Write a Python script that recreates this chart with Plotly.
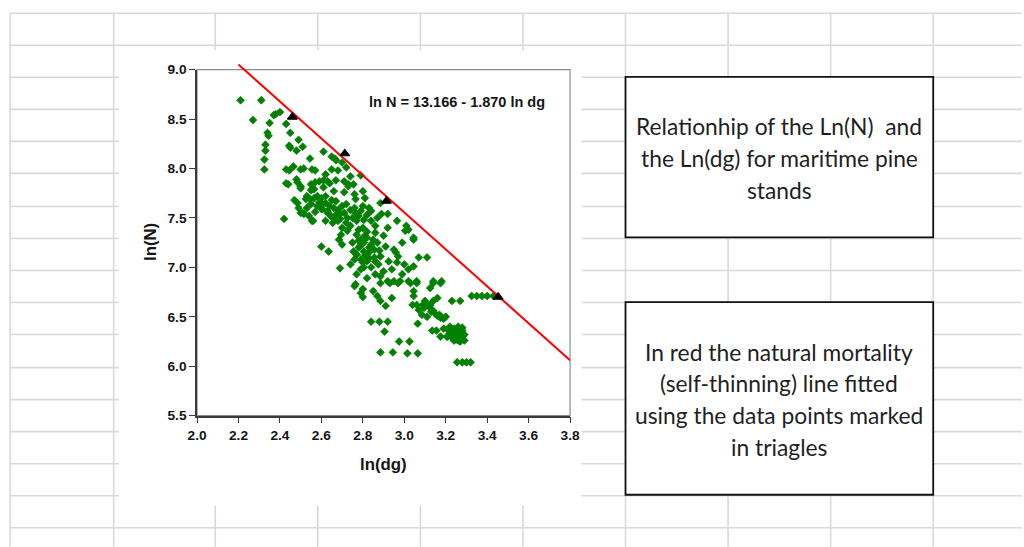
import plotly.graph_objects as go

# Figure size; the page adds an 8 px body margin and is fitted to a 1024x547 window
PAGE_W, PAGE_H = 1024, 547
BODY_MARGIN = 8
W, H = PAGE_W, PAGE_H
CAP_W, CAP_H = PAGE_W + 2 * BODY_MARGIN, PAGE_H + 2 * BODY_MARGIN

# ---- Data: ln(dg) vs ln(N) for maritime pine stands -------------------------
# (ln_dg, ln_n) pairs, grouped by region of the cloud
upper_stands = [
    (2.21, 8.69), (2.31, 8.69), (2.27, 8.49), (2.35, 8.46), (2.37, 8.54), (2.38, 8.55), (2.40, 8.57), (2.43, 8.45),
    (2.34, 8.36), (2.345, 8.33), (2.45, 8.36), (2.49, 8.29), (2.33, 8.24), (2.33, 8.18), (2.445, 8.23), (2.45, 8.21),
    (2.48, 8.18), (2.51, 8.22), (2.325, 8.09), (2.325, 7.99), (2.545, 8.10), (2.61, 8.17), (2.65, 8.12), (2.665, 8.10),
    (2.67, 8.085), (2.70, 8.06), (2.43, 7.99), (2.445, 7.98), (2.465, 8.02), (2.50, 7.99), (2.515, 8.00), (2.555, 7.99),
    (2.57, 7.98), (2.65, 7.99), (2.68, 7.98), (2.72, 8.01), (2.74, 7.92), (2.79, 7.93), (2.43, 7.85), (2.48, 7.89),
    (2.485, 7.86), (2.50, 7.82), (2.55, 7.84), (2.555, 7.79), (2.57, 7.86), (2.59, 7.87), (2.61, 7.88), (2.62, 7.94),
    (2.63, 7.87), (2.64, 7.85), (2.67, 7.88), (2.71, 7.87), (2.73, 7.84), (2.755, 7.84),
]
mid_upper_stands = [
    (2.42, 7.49), (2.47, 7.68), (2.50, 7.55), (2.56, 7.47), (2.545, 7.69), (2.55, 7.78), (2.50, 7.80), (2.44, 7.84),
    (2.49, 7.60), (2.51, 7.55), (2.55, 7.64), (2.555, 7.47), (2.58, 7.72), (2.60, 7.59), (2.62, 7.47), (2.63, 7.55),
    (2.53, 7.72), (2.515, 7.54), (2.54, 7.52), (2.565, 7.70), (2.605, 7.64), (2.485, 7.65), (2.525, 7.69), (2.53, 7.60),
    (2.58, 7.62), (2.605, 7.59), (2.63, 7.57), (2.645, 7.52), (2.66, 7.50), (2.655, 7.45), (2.68, 7.47), (2.69, 7.54),
    (2.70, 7.40), (2.725, 7.50), (2.74, 7.42), (2.765, 7.55), (2.77, 7.47), (2.79, 7.57), (2.805, 7.48), (2.84, 7.57),
    (2.62, 7.72), (2.67, 7.67), (2.72, 7.64), (2.765, 7.69), (2.81, 7.70), (2.695, 7.33), (2.725, 7.37), (2.685, 7.28),
    (2.70, 7.23), (2.565, 7.79), (2.61, 7.81), (2.73, 7.82), (2.84, 7.47), (2.86, 7.42), (2.87, 7.50),
    (2.60, 7.70), (2.66, 7.77), (2.71, 7.76), (2.76, 7.74), (2.80, 7.77), (2.885, 7.65), (2.89, 7.54), (2.92, 7.54),
    (2.60, 7.21), (2.635, 7.16), (2.69, 6.99),
    (2.64, 7.62), (2.66, 7.60), (2.68, 7.58), (2.70, 7.62), (2.71, 7.55), (2.67, 7.53), (2.69, 7.49), (2.72, 7.45),
    (2.74, 7.58), (2.75, 7.50), (2.62, 7.65), (2.65, 7.68), (2.59, 7.66), (2.57, 7.56), (2.76, 7.60), (2.80, 7.62),
    (2.83, 7.60), (2.78, 7.52), (2.82, 7.53),
]
middle_stands = [
    (2.77, 7.33), (2.79, 7.28), (2.805, 7.25), (2.82, 7.30), (2.84, 7.23), (2.78, 7.20), (2.805, 7.16), (2.83, 7.15),
    (2.855, 7.18), (2.77, 7.13), (2.79, 7.08), (2.82, 7.06), (2.855, 7.10), (2.885, 7.11), (2.875, 7.03), (2.84, 7.00),
    (2.805, 7.00), (2.86, 7.35), (2.90, 7.32), (2.91, 7.21), (2.95, 7.18), (2.92, 7.40), (2.96, 7.15), (2.97, 7.11),
    (3.00, 7.03), (2.94, 6.98), (2.965, 7.05), (3.01, 7.42), (3.005, 7.37), (3.045, 7.30), (2.99, 7.25), (3.07, 7.10),
    (3.11, 7.10), (2.925, 7.06), (2.90, 6.96), (2.77, 6.93), (2.82, 6.89), (2.885, 6.91), (2.92, 6.86), (2.95, 6.86),
    (2.98, 6.86), (3.02, 6.86), (3.06, 6.86), (3.14, 6.86), (3.18, 6.86), (2.79, 6.98), (2.74, 7.03), (2.755, 7.16),
    (2.75, 7.25), (2.86, 6.93), (2.99, 6.93), (3.02, 6.98), (3.045, 7.01), (2.965, 7.47), (3.02, 7.38), (3.045, 7.28),
    (2.78, 7.38), (2.80, 7.40), (2.82, 7.36), (2.81, 7.32), (2.79, 7.22), (2.81, 7.12), (2.83, 7.20), (2.80, 7.05),
    (2.85, 7.28), (2.87, 7.25), (2.88, 7.17), (2.76, 7.08), (2.78, 7.27), (2.83, 7.09), (2.86, 7.06),
]
lower_stands = [
    (2.765, 6.83), (2.80, 6.78), (2.79, 6.74), (2.80, 6.70), (2.85, 6.76), (2.87, 6.71), (2.885, 6.66), (2.91, 6.61),
    (2.94, 6.69), (2.885, 6.84), (2.93, 6.84), (2.97, 6.84), (3.03, 6.84), (3.06, 6.84), (3.045, 6.76), (3.045, 6.71),
    (3.125, 6.79), (3.14, 6.84), (3.175, 6.84), (3.04, 6.62), (3.06, 6.62), (3.09, 6.62), (3.125, 6.62), (3.07, 6.57),
    (3.095, 6.59), (3.16, 6.69), (3.14, 6.66), (3.085, 6.52), (3.11, 6.50), (3.14, 6.56), (3.16, 6.51), (3.175, 6.49),
    (3.20, 6.50), (3.23, 6.66), (3.27, 6.66), (3.325, 6.71), (3.35, 6.71), (3.375, 6.71), (3.40, 6.71), (3.43, 6.71),
    (2.84, 6.45), (2.88, 6.45), (2.92, 6.45), (2.905, 6.35), (3.065, 6.43), (3.135, 6.36), (3.155, 6.36), (3.175, 6.30),
    (3.205, 6.30), (2.975, 6.25), (3.025, 6.25), (2.885, 6.14), (2.945, 6.14), (3.015, 6.13), (3.065, 6.13),
    (3.255, 6.04), (3.28, 6.04), (3.30, 6.04), (3.32, 6.04), (2.76, 6.81),
    (3.10, 6.66), (3.11, 6.62), (3.12, 6.60), (3.13, 6.55), (3.15, 6.53), (3.17, 6.52), (3.19, 6.48),
]
cluster_stands = [
    (3.19, 6.38), (3.21, 6.37), (3.22, 6.40), (3.23, 6.36), (3.24, 6.38), (3.25, 6.35), (3.26, 6.37), (3.27, 6.34),
    (3.28, 6.36), (3.22, 6.33), (3.24, 6.32), (3.25, 6.30), (3.26, 6.31), (3.27, 6.29), (3.28, 6.30), (3.29, 6.32),
    (3.23, 6.29), (3.25, 6.27), (3.26, 6.26), (3.27, 6.25), (3.29, 6.26), (3.24, 6.26), (3.21, 6.30), (3.26, 6.40),
    (3.28, 6.39),
]

# Points used for the self-thinning fit (triangles)
tri_ln_dg = [2.46, 2.713, 2.914, 3.453]
tri_ln_n = [8.52, 8.15, 7.67, 6.70]

# Fitted self-thinning line: ln N = a + b ln dg
INTERCEPT = 13.166
SLOPE = -1.870
line_ln_dg = [2.2, 3.8]

x_ticks = [2.0, 2.2, 2.4, 2.6, 2.8, 3.0, 3.2, 3.4, 3.6, 3.8]
y_ticks = [5.5, 6.0, 6.5, 7.0, 7.5, 8.0, 8.5, 9.0]

box1_lines = ["Relationhip of the Ln(N)\u00a0 and", "the Ln(dg) for maritime pine", "stands"]
box2_lines = ["In red the natural mortality", "(self-thinning) line fitted",
              "using the data points marked", "in triagles"]


# ---- Helpers: window pixel -> figure paper coordinates ----------------------
def px(x):
    return (x * CAP_W / PAGE_W - BODY_MARGIN) / W


def py(y):
    return 1 - (y * CAP_H / PAGE_H - BODY_MARGIN) / H


all_stands = upper_stands + mid_upper_stands + middle_stands + lower_stands + cluster_stands
ln_dg = [p[0] for p in all_stands]
ln_n = [p[1] for p in all_stands]
line_ln_n = [INTERCEPT + SLOPE * v for v in line_ln_dg]

BOLD = dict(family="Liberation Sans, Arial, sans-serif", weight="bold", color="#141414")
AXIS_COLOR = "#3a3a3a"

# Plot-area geometry
X_DOM = [px(195.7), px(570.3)]
Y_DOM = [py(416), py(70.3)]
# A second y axis with the same scale but a taller domain lets the fitted
# line run a few pixels past the top of the frame
Y_EXT = py(58) - Y_DOM[1]
Y2_TOP = y_ticks[-1] + Y_EXT * (y_ticks[-1] - y_ticks[0]) / (Y_DOM[1] - Y_DOM[0])

fig = go.Figure()

fig.add_trace(go.Scatter(
    x=ln_dg, y=ln_n, mode="markers",
    marker=dict(symbol="diamond", size=6.0, color="#008000", line=dict(color="#008000", width=0.7)),
    showlegend=False, hoverinfo="skip",
))
fig.add_trace(go.Scatter(
    x=line_ln_dg, y=line_ln_n, mode="lines", xaxis="x", yaxis="y2",
    line=dict(color="#ff0000", width=2),
    showlegend=False, hoverinfo="skip",
))
fig.add_trace(go.Scatter(
    x=tri_ln_dg, y=tri_ln_n, mode="markers", xaxis="x", yaxis="y2",
    marker=dict(symbol="triangle-up", size=8.5, color="#000000", line=dict(color="#000000", width=1.2)),
    showlegend=False, hoverinfo="skip",
))

# ---- Spreadsheet background grid --------------------------------------------
grid_cols = [8, 112, 214, 317, 420, 523, 626, 729, 832, 935]
grid_rows = [14, 46, 78, 110, 142, 174, 207, 239, 271, 303, 335, 368, 400, 432, 464, 496, 528]
GRID = dict(color="#d9d9d9", width=1.6)

shapes = []
for c in grid_cols:
    shapes.append(dict(type="line", xref="paper", yref="paper", x0=px(c), x1=px(c),
                       y0=py(14), y1=py(PAGE_H), line=GRID, layer="below"))
for r in grid_rows:
    shapes.append(dict(type="line", xref="paper", yref="paper", x0=px(8), x1=px(PAGE_W),
                       y0=py(r), y1=py(r), line=GRID, layer="below"))

# Chart area (covers the cell grid)
shapes.append(dict(type="rect", xref="paper", yref="paper", x0=px(117), x1=px(582),
                   y0=py(506), y1=py(51), fillcolor="white", line=dict(width=0), layer="below"))
# Plot area frame (grey on top / right)
shapes.append(dict(type="rect", xref="x domain", yref="y domain", x0=0, x1=1, y0=0, y1=1,
                   line=dict(color="#8c8c8c", width=1.2), layer="below"))

# Text boxes
BOX_LINE = dict(color="#111111", width=1.8)
shapes.append(dict(type="rect", xref="paper", yref="paper", x0=px(626), x1=px(935),
                   y0=py(238), y1=py(77.5), fillcolor="white", line=BOX_LINE, layer="above"))
shapes.append(dict(type="rect", xref="paper", yref="paper", x0=px(626), x1=px(935),
                   y0=py(495), y1=py(302.5), fillcolor="white", line=BOX_LINE, layer="above"))

annotations = []
BOX_FONT = dict(family="Lato, Carlito, Calibri, sans-serif", size=22.8, color="#1f1f1f")
for i, t in enumerate(box1_lines):
    annotations.append(dict(text=t, xref="paper", yref="paper", x=px(780.5), y=py(127 + 32 * i),
                            xanchor="center", yanchor="middle", showarrow=False, font=BOX_FONT))
for i, t in enumerate(box2_lines):
    annotations.append(dict(text=t, xref="paper", yref="paper", x=px(780.5), y=py(352 + 31.8 * i),
                            xanchor="center", yanchor="middle", showarrow=False, font=BOX_FONT))

# Equation label
annotations.append(dict(text=f"ln N = {INTERCEPT:.3f} - {abs(SLOPE):.3f} ln dg",
                        xref="x", yref="y", x=3.256, y=8.67, xanchor="center", yanchor="middle",
                        showarrow=False, font=dict(BOLD, size=14.5)))
# Axis titles
annotations.append(dict(text="ln(N)", xref="paper", yref="paper", x=px(149), y=py(243),
                        xanchor="center", yanchor="middle", textangle=-90, showarrow=False,
                        font=dict(BOLD, size=16.8)))
annotations.append(dict(text="ln(dg)", xref="paper", yref="paper", x=px(383), y=py(465),
                        xanchor="center", yanchor="middle", showarrow=False,
                        font=dict(BOLD, size=16.8)))

axis_common = dict(
    showgrid=False, zeroline=False, showline=True, linecolor=AXIS_COLOR, linewidth=1.5,
    ticks="outside", ticklen=6, tickwidth=1.2, tickcolor=AXIS_COLOR,
    tickfont=dict(BOLD, size=13.7), tickformat=".1f", fixedrange=True,
)

fig.update_layout(
    width=W, height=H, autosize=False,
    margin=dict(l=0, r=0, t=0, b=0),
    paper_bgcolor="white", plot_bgcolor="rgba(0,0,0,0)",
    xaxis=dict(axis_common, range=[x_ticks[0], x_ticks[-1]], tickvals=x_ticks, domain=X_DOM,
               anchor="y"),
    yaxis=dict(axis_common, range=[y_ticks[0], y_ticks[-1]], tickvals=y_ticks, domain=Y_DOM,
               anchor="x"),
    yaxis2=dict(range=[y_ticks[0], Y2_TOP], domain=[Y_DOM[0], Y_DOM[1] + Y_EXT], anchor="x",
                visible=False, showgrid=False, zeroline=False, fixedrange=True),
    shapes=shapes,
    annotations=annotations,
    showlegend=False,
)

fig.write_html("out.html", config=dict(displayModeBar=False))
